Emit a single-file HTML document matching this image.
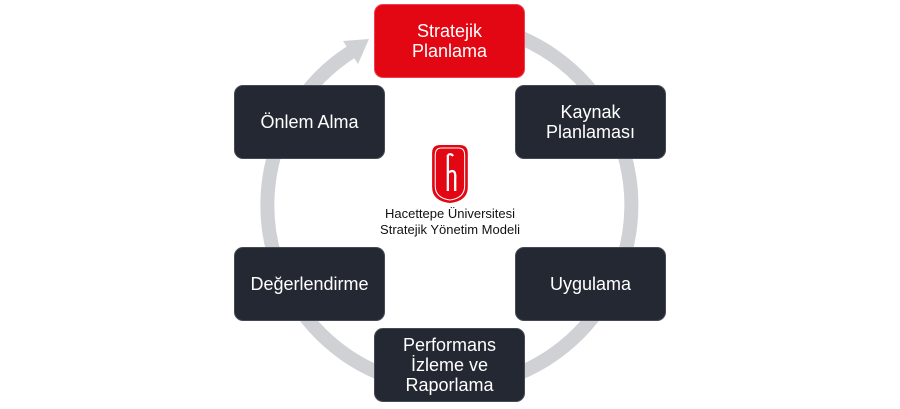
<!DOCTYPE html>
<html><head><meta charset="utf-8"><style>
body{margin:0;width:900px;height:409px;background:#fff;position:relative;overflow:hidden;font-family:"Liberation Sans",Arial,sans-serif}
.b{position:absolute;width:151px;height:74px;background:#232833;border-radius:9px;color:#fff;font-size:18px;line-height:20px;display:flex;align-items:center;justify-content:center;text-align:center;box-sizing:border-box;border:1px solid #444a55}
.r{background:#e30613;border-color:#f04050}
.t{position:absolute;left:350px;width:200px;text-align:center;font-size:13px;line-height:16px;color:#111}
</style></head><body>
<svg width="900" height="409" style="position:absolute;left:0;top:0">
<path d="M351,52 A182,182 0 1 0 481.6,26" fill="none" stroke="#d0d1d4" stroke-width="14"/>
<polygon points="369,39 358,64 343,41" fill="#d0d1d4"/>
<g transform="translate(430,145) scale(1.05,1)">
<path d="M2,8 Q2,0 10,0 L28,0 Q36,0 36,8 L36,42 Q36,56 19,58 Q2,56 2,42 Z" fill="#e30613"/>
<path d="M5,10 Q5,3 11,3 L27,3 Q33,3 33,10 L33,41 Q33,53 19,55 Q5,53 5,41 Z" fill="none" stroke="#fff" stroke-width="1"/>
<path d="M17,10 L17,46 M17,28 Q25,22 24,34 L24,46 M17,10 Q20,8 22,11" fill="none" stroke="#fff" stroke-width="2.2"/>
</g>
</svg>
<div class="b r" style="left:374px;top:4px">Stratejik<br>Planlama</div>
<div class="b" style="left:515px;top:85px">Kaynak<br>Planlaması</div>
<div class="b" style="left:234px;top:85px">Önlem Alma</div>
<div class="b" style="left:234px;top:247px">Değerlendirme</div>
<div class="b" style="left:515px;top:247px">Uygulama</div>
<div class="b" style="left:374px;top:328px">Performans<br>İzleme ve<br>Raporlama</div>
<div class="t" style="top:206px">Hacettepe Üniversitesi<br>Stratejik Yönetim Modeli</div>
</body></html>
